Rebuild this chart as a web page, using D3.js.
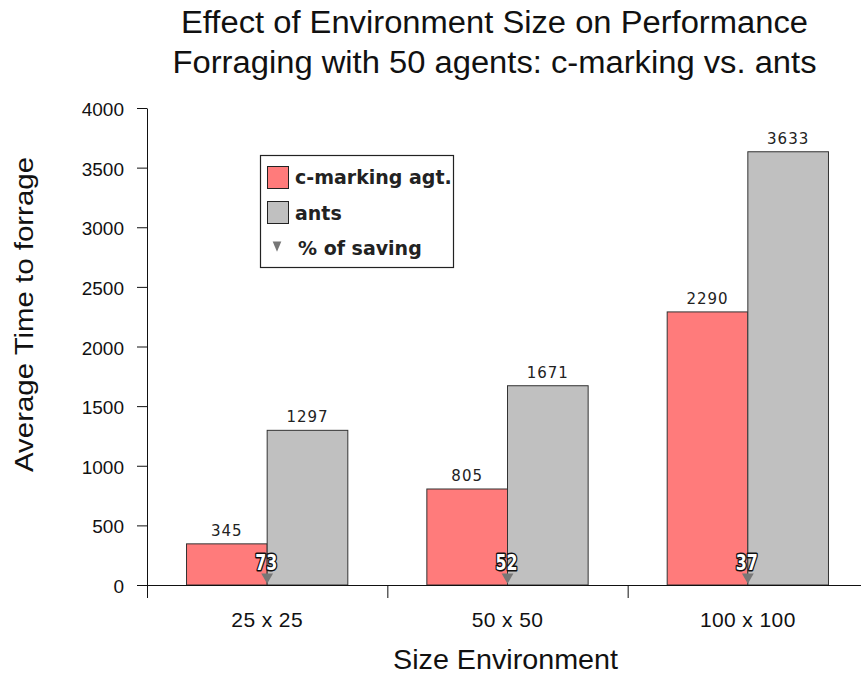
<!DOCTYPE html>
<html>
<head>
<meta charset="utf-8">
<script src="https://cdn.jsdelivr.net/npm/d3@7"></script>
<style>
  html, body { margin: 0; padding: 0; background: #fff; }
  svg { display: block; }
  .sans { font-family: "Liberation Sans", Arial, sans-serif; }
</style>
</head>
<body>
<svg id="chart" width="861" height="682"></svg>
<script>
const categories = ["25 x 25", "50 x 50", "100 x 100"];
const cmarking = [345, 805, 2290];
const ants = [1297, 1671, 3633];
const saving = [73, 52, 37];
const yTicks = [0, 500, 1000, 1500, 2000, 2500, 3000, 3500, 4000];
const seriesNames = ["c-marking agt.", "ants", "% of saving"];
const titleLines = ["Effect of Environment Size on Performance", "Forraging with 50 agents: c-marking vs. ants"];

const svg = d3.select("#chart");
const pLeft = 147, pRight = 868, pTop = 108, pBottom = 585;

const x = d3.scaleBand().domain(categories).range([pLeft, pRight]).paddingInner(0).paddingOuter(0);
const inner = d3.scaleBand().domain(["c", "a"]).range([0, x.bandwidth()]).paddingOuter(0.49).paddingInner(0);
const y = d3.scaleLinear().domain([0, 4000]).range([pBottom, pTop]);

const red = "#ff7b7b", grey = "#c0c0c0", edge = "#333";

// Title
const titleLen = [627, 644];
svg.append("g").attr("class", "sans").selectAll("text").data(titleLines).join("text")
  .attr("x", 494.5).attr("y", (d, i) => 33 + i * 40)
  .attr("text-anchor", "middle").attr("font-size", 31).attr("fill", "#111")
  .attr("textLength", (d, i) => titleLen[i]).attr("lengthAdjust", "spacingAndGlyphs")
  .text(d => d);

// Bars
const groups = svg.append("g").selectAll("g").data(categories).join("g")
  .attr("transform", d => `translate(${x(d)},0)`);

groups.append("rect")
  .attr("x", inner("c")).attr("width", inner.bandwidth())
  .attr("y", (d, i) => y(cmarking[i])).attr("height", (d, i) => y(0) - y(cmarking[i]))
  .attr("fill", red).attr("stroke", edge).attr("stroke-width", 1);
groups.append("rect")
  .attr("x", inner("a")).attr("width", inner.bandwidth())
  .attr("y", (d, i) => y(ants[i])).attr("height", (d, i) => y(0) - y(ants[i]))
  .attr("fill", grey).attr("stroke", edge).attr("stroke-width", 1);

// value labels
groups.append("text")
  .attr("x", inner("c") + inner.bandwidth() / 2).attr("y", (d, i) => y(cmarking[i]) - 8)
  .attr("text-anchor", "middle").attr("font-family", "DejaVu Sans").attr("font-size", 15)
  .attr("letter-spacing", 1).attr("fill", "#222").text((d, i) => cmarking[i]);
groups.append("text")
  .attr("x", inner("a") + inner.bandwidth() / 2).attr("y", (d, i) => y(ants[i]) - 8)
  .attr("text-anchor", "middle").attr("font-family", "DejaVu Sans").attr("font-size", 15)
  .attr("letter-spacing", 1).attr("fill", "#222").text((d, i) => ants[i]);

// saving markers
groups.append("path")
  .attr("d", d3.symbol().type(d3.symbolTriangle).size(60))
  .attr("transform", d => `translate(${inner("a")},${y(0) - 8}) rotate(180)`)
  .attr("fill", "#777");
groups.append("text")
  .attr("x", inner("a") - 1).attr("y", y(0) - 15)
  .attr("text-anchor", "middle").attr("font-family", "DejaVu Sans Condensed, DejaVu Sans").attr("font-weight", "bold")
  .attr("font-size", 21).attr("textLength", 22).attr("lengthAdjust", "spacingAndGlyphs")
  .attr("fill", "#fff").attr("stroke", "#111").attr("stroke-width", 3)
  .attr("paint-order", "stroke").attr("stroke-linejoin", "round")
  .text((d, i) => saving[i]);

// Y axis
const yAxis = svg.append("g").attr("transform", `translate(${pLeft},0)`)
  .call(d3.axisLeft(y).tickValues(yTicks).tickSize(10).tickPadding(13).tickSizeOuter(0).tickFormat(d3.format("d")));
yAxis.select(".domain").attr("stroke", "#111");
yAxis.selectAll(".tick line").attr("stroke", "#111");
yAxis.selectAll("text").attr("font-family", "Liberation Sans, Arial, sans-serif").attr("font-size", 19)
  .attr("fill", "#111").attr("dy", "0.4em");

// X axis
const xTickPos = categories.map(c => x(c)).concat([pRight]);
svg.append("line").attr("x1", pLeft - 10).attr("x2", 861).attr("y1", pBottom + 0.5).attr("y2", pBottom + 0.5).attr("stroke", "#111");
svg.append("g").selectAll("line").data(xTickPos).join("line")
  .attr("x1", d => d + 0.5).attr("x2", d => d + 0.5).attr("y1", pBottom).attr("y2", pBottom + 13)
  .attr("stroke", "#111");
svg.append("g").attr("class", "sans").selectAll("text").data(categories).join("text")
  .attr("x", d => x(d) + x.bandwidth() / 2).attr("y", 627)
  .attr("text-anchor", "middle").attr("font-size", 21).attr("fill", "#111")
  .attr("letter-spacing", 0.4).text(d => d);

// Axis titles
svg.append("text").attr("class", "sans")
  .attr("transform", "translate(33,314.5) rotate(-90)")
  .attr("text-anchor", "middle").attr("font-size", 25).attr("fill", "#111")
  .attr("textLength", 315).attr("lengthAdjust", "spacingAndGlyphs")
  .text("Average Time to forrage");
svg.append("text").attr("class", "sans")
  .attr("x", 505.5).attr("y", 669).attr("text-anchor", "middle").attr("font-size", 28).attr("fill", "#111")
  .attr("textLength", 225).attr("lengthAdjust", "spacingAndGlyphs")
  .text("Size Environment");

// Legend
const lg = svg.append("g");
lg.append("rect").attr("x", 260.5).attr("y", 155.5).attr("width", 193).attr("height", 112)
  .attr("fill", "#fff").attr("stroke", "#222").attr("stroke-width", 1.2);
const legendColors = [red, grey];
lg.selectAll("rect.sw").data(seriesNames.slice(0, 2)).join("rect").attr("class", "sw")
  .attr("x", 267.5).attr("y", (d, i) => 166.5 + i * 35).attr("width", 21).attr("height", 22)
  .attr("fill", (d, i) => legendColors[i]).attr("stroke", "#222");
lg.append("path").attr("d", d3.symbol().type(d3.symbolTriangle).size(45))
  .attr("transform", "translate(277,245) rotate(180) scale(0.85,1.15)").attr("fill", "#777");
const legendY = [184, 220, 255];
lg.selectAll("text").data(seriesNames).join("text")
  .attr("x", (d, i) => i < 2 ? 295 : 298).attr("y", (d, i) => legendY[i])
  .attr("font-family", "DejaVu Sans").attr("font-weight", "bold").attr("font-size", 19)
  .attr("fill", "#222").text(d => d);
</script>
</body>
</html>
